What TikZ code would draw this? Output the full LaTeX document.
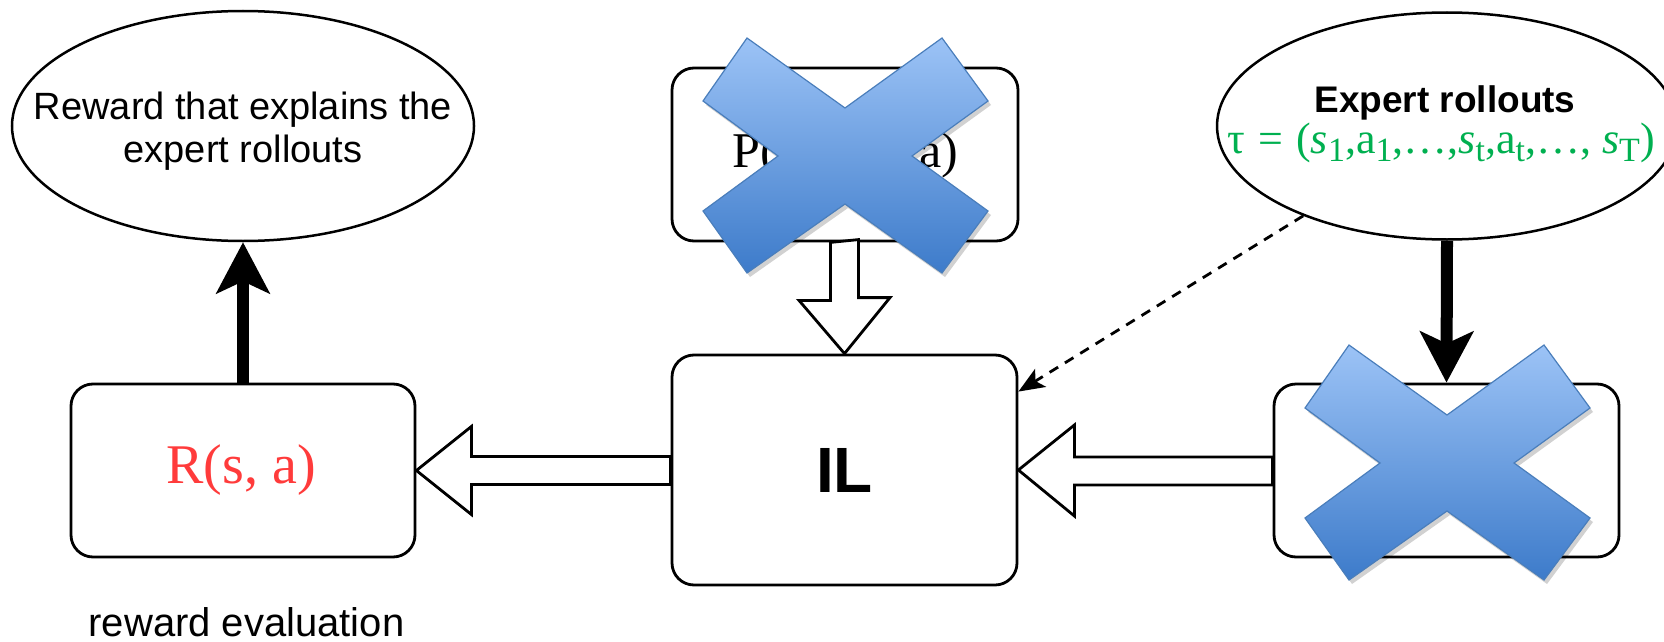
\documentclass[tikz,border=0pt]{standalone}
\usepackage{fontspec}
\setmainfont{Liberation Serif}
\newfontfamily\sansfont{Liberation Sans}
\usetikzlibrary{arrows.meta,shapes.geometric,calc}

\definecolor{xlight}{HTML}{9CC3F6}
\definecolor{xdark}{HTML}{3D7BCA}
\definecolor{xedge}{HTML}{4A7EBB}
\definecolor{rewred}{HTML}{FF3B3B}
\definecolor{trajgreen}{HTML}{00B050}

% lowered subscript used in the trajectory formula
\newcommand{\trs}[1]{\raisebox{-0.2em}{\fontsize{34}{34}\selectfont #1}}

\tikzset{
  box/.style={draw, line width=2.8pt, rounded corners=22pt, inner sep=0pt, fill=white},
  oval/.style={draw, ellipse, line width=2.5pt, inner sep=0pt, fill=white},
  hollow/.style={draw, line width=2.8pt, fill=white, line join=miter},
  bigarrow/.style={line width=12pt, -{Stealth[length=51pt,width=53pt,inset=12pt]}},
  dasharrow/.style={line width=2.8pt, dash pattern=on 10pt off 8pt,
    -{Stealth[length=26pt,width=21pt,inset=6pt]}},
  crossmark/.style={top color=xlight, bottom color=xdark, draw=xedge, line width=1.2pt},
  pics/crossout/.style={code={
    \fill[black, opacity=0.18, shift={(3,4)}]
      (-98,-118) -- (0,-48) -- (97,-118) -- (143,-55) -- (67,0) -- (143,55)
      -- (97,117) -- (0,48) -- (-98,117) -- (-142,55) -- (-67,0) -- (-142,-55) -- cycle;
    \path[crossmark]
      (-98,-118) -- (0,-48) -- (97,-118) -- (143,-55) -- (67,0) -- (143,55)
      -- (97,117) -- (0,48) -- (-98,117) -- (-142,55) -- (-67,0) -- (-142,-55) -- cycle;
  }}
}

\begin{document}
\begin{tikzpicture}[x=1pt, y=-1pt]
\useasboundingbox (0,0) rectangle (1664,642);
\fill[white] (0,0) rectangle (1664,642);

% ovals
\node[oval, minimum width=462pt, minimum height=230pt] (rew) at (243,126) {};
\node[align=center, font=\sansfont\fontsize{38}{43}\selectfont] (rewtxt) at (243,131)
  {Reward that explains the\\expert rollouts};

\node[oval, minimum width=460pt, minimum height=227pt] (exp) at (1447,126) {};
\node[anchor=base, font=\sansfont\bfseries\fontsize{37}{37}\selectfont] (exptxt) at (1445,112)
  {Expert rollouts};
\node[anchor=base, text=trajgreen, font=\fontsize{44}{44}\selectfont, inner sep=0pt] (traj) at (1441,153)
  {τ\hspace{0.3em}=\hspace{0.3em}(\textit{s}\trs{1},a\trs{1},…,\textit{s}\trs{t},a\trs{t},…, \textit{s}\trs{T})};

% boxes
\node[box, minimum width=346pt, minimum height=173pt] (p) at (845,154.5) {};
\node[anchor=base, font=\fontsize{50}{50}\selectfont] (ptxt) at (845.5,167)
  {P(s'\hspace{0.45em}|\hspace{0.45em}s,\hspace{0.4em}a)};

\node[box, minimum width=345pt, minimum height=230pt] (il) at (844.5,470) {};
\node[font=\sansfont\bfseries\fontsize{64}{64}\selectfont] (iltxt) at (844.5,470) {IL};

\node[box, minimum width=344pt, minimum height=173pt] (r) at (243,470.5) {};
\node[anchor=base, text=rewred, font=\fontsize{56}{56}\selectfont] (rtxt) at (241,483) {R(s, a)};

\node[box, minimum width=345pt, minimum height=173pt] (rb) at (1446.5,470.5) {};

\node[anchor=base, font=\sansfont\fontsize{40}{40}\selectfont] (evaltxt) at (246.5,636)
  {reward evaluation};

% hollow block arrows
\draw[hollow] (p.south -| il.north) ++(-14,0) -- ++(0,58) -- ++(-31.5,0)
  -- (il.north) -- ++(45.5,-56) -- ++(-31.5,0) -- ++(0,-58) -- cycle;
\draw[hollow] (r.east) -- ++(55,-44) -- ++(0,30) -- ($(il.west)+(0,-13.5)$)
  -- ($(il.west)+(0,14.5)$) -- ($(r.east)+(55,14)$) -- ++(0,30) -- cycle;
\draw[hollow] (il.east) -- ++(56,-45) -- ++(0,32) -- ($(rb.west)+(0,-13.5)$)
  -- ($(rb.west)+(0,14.5)$) -- ($(il.east)+(56,15)$) -- ++(0,31) -- cycle;

% solid and dashed arrows
\draw[bigarrow] (r.north) -- (rew.south);
\draw[bigarrow] (exp.south) -- (rb.north);
\draw[dasharrow] (exp.212) -- ($(il.north east)+(0,38)$);

% crossed-out marks
\pic at (845,156) {crossout};
\pic at (1447,463) {crossout};
\end{tikzpicture}
\end{document}
